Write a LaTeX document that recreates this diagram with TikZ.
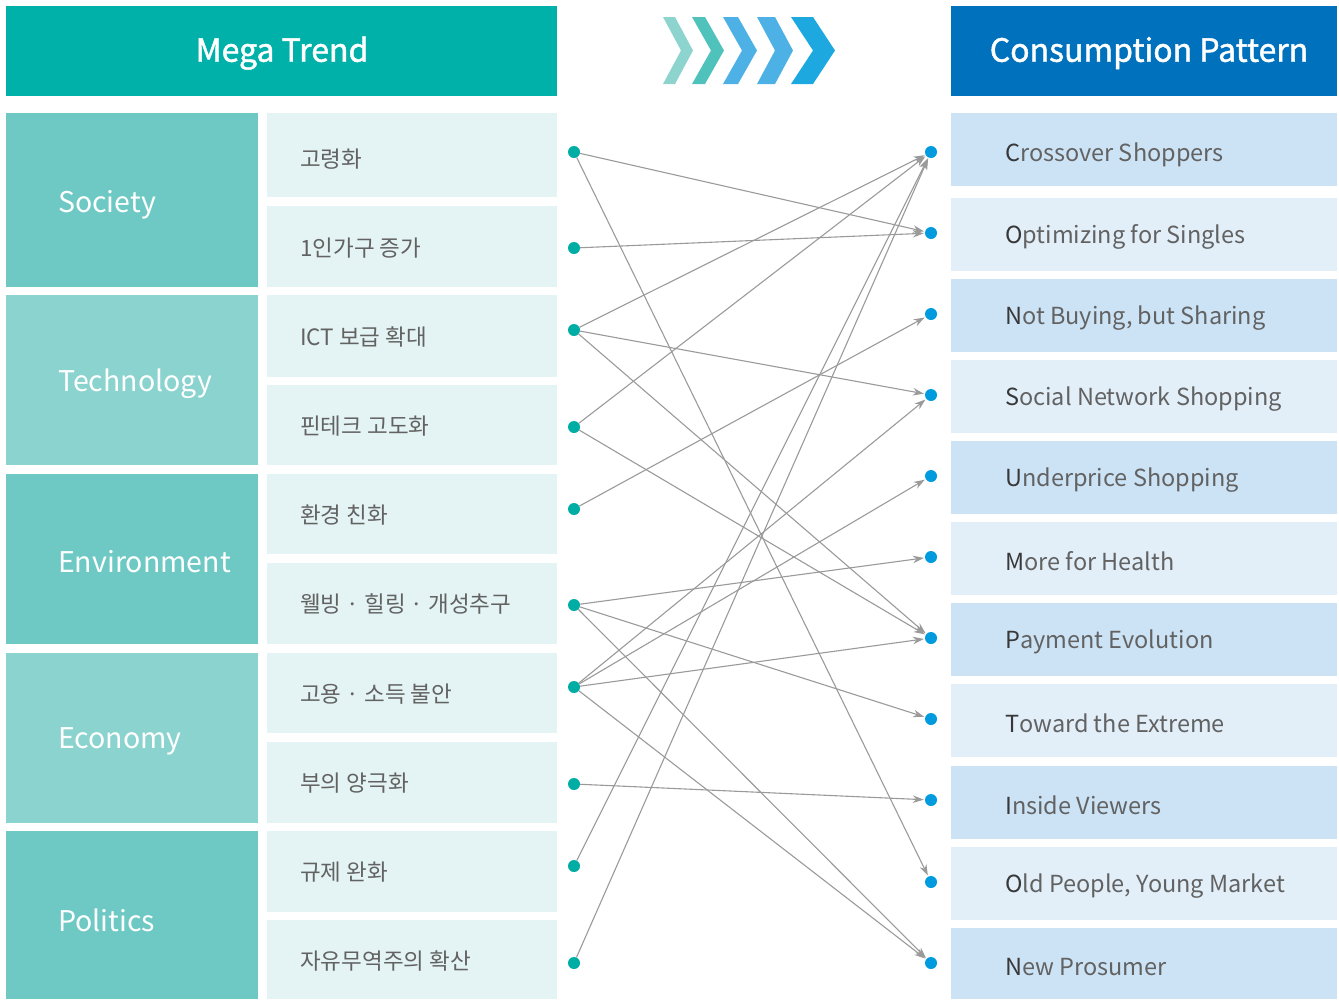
\documentclass[tikz,border=0pt]{standalone}
\usepackage{fontspec}
\setmainfont{Noto Sans CJK KR}
\newfontfamily\headfont[FakeBold=1.4]{Noto Sans CJK KR}
\usetikzlibrary{arrows.meta}

\definecolor{hdrteal}{HTML}{00B1A9}
\definecolor{hdrblue}{HTML}{0071BC}
\definecolor{catA}{HTML}{6EC9C5}
\definecolor{catB}{HTML}{8AD3CE}
\definecolor{itembg}{HTML}{E4F3F3}
\definecolor{patA}{HTML}{CCE3F5}
\definecolor{patB}{HTML}{E2EFF9}
\definecolor{dotL}{HTML}{00ADA5}
\definecolor{dotR}{HTML}{009ADE}
\definecolor{linkgray}{HTML}{9A9A9A}
\definecolor{txtgray}{HTML}{626262}
\definecolor{txtdark}{HTML}{383838}
\definecolor{chevA}{HTML}{8DD3CE}
\definecolor{chevB}{HTML}{4FC2BB}
\definecolor{chevC}{HTML}{4DB1E6}
\definecolor{chevD}{HTML}{1DA8E0}

\tikzset{
  hdrtext/.style={text=white, font=\headfont\fontsize{32}{32}\selectfont, inner sep=0, yshift=-2pt},
  cattext/.style={text=white, anchor=west, font=\fontsize{28.5}{28.5}\selectfont, inner sep=0, yshift=-3pt},
  itemtext/.style={text=txtgray, anchor=west, font=\fontsize{22.5}{22.5}\selectfont, inner sep=0, yshift=-2pt},
  pattext/.style={text=txtgray, anchor=west, font=\fontsize{23.5}{23.5}\selectfont, inner sep=0, yshift=-2pt},
  ldot/.style={circle, fill=dotL, minimum size=12pt, inner sep=0},
  rdot/.style={circle, fill=dotR, minimum size=12pt, inner sep=0},
  link/.style={draw=linkgray, line width=1.1pt, -{Stealth[length=11pt,width=7.5pt]}, shorten >=1pt}
}
\newcommand{\initial}[2]{{\color{txtdark}#1}#2}

\begin{document}
\begin{tikzpicture}[x=1pt,y=-1pt]
\useasboundingbox (0,0) rectangle (1339,999);

% headers
\fill[hdrteal] (6,6) rectangle (557,96);
\node[hdrtext] (hmega) at (282,51) {Mega Trend};
\fill[hdrblue] (951,6) rectangle (1337,96);
\node[hdrtext] (hcons) at (1149,51) {Consumption Pattern};

% chevrons between the headers
\fill[chevA] (663,17) -- (675,17) -- (693,50.5) -- (675,84) -- (663,84) -- (681,50.5) -- cycle;
\fill[chevB] (692,17) -- (705,17) -- (724,50.5) -- (705,84) -- (692,84) -- (711,50.5) -- cycle;
\fill[chevC] (723,17) -- (738,17) -- (757,50.5) -- (738,84) -- (723,84) -- (742,50.5) -- cycle;
\fill[chevC] (757,17) -- (775,17) -- (793,50.5) -- (775,84) -- (757,84) -- (775,50.5) -- cycle;
\fill[chevD] (791,17) -- (813,17) -- (835,50.5) -- (813,84) -- (791,84) -- (813,50.5) -- cycle;

% category column
\fill[catA] (6,113) rectangle (258,287);
\fill[catB] (6,295) rectangle (258,465);
\fill[catA] (6,474) rectangle (258,644);
\fill[catB] (6,653) rectangle (258,823);
\fill[catA] (6,831) rectangle (258,999);
\node[cattext] (csoc) at (58,202) {Society};
\node[cattext] (ctec) at (58,381) {Technology};
\node[cattext] (cenv) at (58,559) {Environment};
\node[cattext] (ceco) at (58,738) {Economy};
\node[cattext] (cpol) at (58,917) {Politics};

% trend items
\foreach \ya/\yb in {113/197, 206/287, 295/377, 385/465, 474/554, 563/644, 653/733, 742/823, 831/912, 920/999}
  \fill[itembg] (267,\ya) rectangle (557,\yb);
\node[itemtext] (t1) at (300,157) {고령화};
\node[itemtext] (t2) at (300,246) {1인가구 증가};
\node[itemtext] (t3) at (300,335) {ICT 보급 확대};
\node[itemtext] (t4) at (300,424) {핀테크 고도화};
\node[itemtext] (t5) at (300,513) {환경 친화};
\node[itemtext] (t6) at (300,602) {웰빙 · 힐링 · 개성추구};
\node[itemtext] (t7) at (300,692) {고용 · 소득 불안};
\node[itemtext] (t8) at (300,781) {부의 양극화};
\node[itemtext] (t9) at (300,870) {규제 완화};
\node[itemtext] (t10) at (300,959) {자유무역주의 확산};

% consumption patterns
\foreach \ya/\col in {113/patA, 198/patB, 279/patA, 360/patB, 441/patA, 522/patB, 603/patA, 684/patB, 766/patA, 847/patB, 928/patA}
  \fill[\col] (951,\ya) rectangle (1337,{min(\ya+73,999)});
\node[pattext] (p1) at (1005,153) {\initial{C}{rossover Shoppers}};
\node[pattext] (p2) at (1005,235) {\initial{O}{ptimizing for Singles}};
\node[pattext] (p3) at (1005,316) {\initial{N}{ot Buying, but Sharing}};
\node[pattext] (p4) at (1005,397) {\initial{S}{ocial Network Shopping}};
\node[pattext] (p5) at (1005,478) {\initial{U}{nderprice Shopping}};
\node[pattext] (p6) at (1005,559) {\initial{M}{ore for Health}};
\node[pattext] (p7) at (1005,640) {\initial{P}{ayment Evolution}};
\node[pattext] (p8) at (1005,721) {\initial{T}{oward the Extreme}};
\node[pattext] (p9) at (1005,803) {\initial{I}{nside Viewers}};
\node[pattext] (p10) at (1005,884) {\initial{O}{ld People, Young Market}};
\node[pattext] (p11) at (1005,965) {\initial{N}{ew Prosumer}};

% connector dots
\node[ldot] (L1) at (574,152) {};
\node[ldot] (L2) at (574,248) {};
\node[ldot] (L3) at (574,330) {};
\node[ldot] (L4) at (574,427) {};
\node[ldot] (L5) at (574,509) {};
\node[ldot] (L6) at (574,605) {};
\node[ldot] (L7) at (574,687) {};
\node[ldot] (L8) at (574,784) {};
\node[ldot] (L9) at (574,866) {};
\node[ldot] (L10) at (574,963) {};
\node[rdot] (R1) at (931,152) {};
\node[rdot] (R2) at (931,233) {};
\node[rdot] (R3) at (931,314) {};
\node[rdot] (R4) at (931,395) {};
\node[rdot] (R5) at (931,476) {};
\node[rdot] (R6) at (931,557) {};
\node[rdot] (R7) at (931,638) {};
\node[rdot] (R8) at (931,719) {};
\node[rdot] (R9) at (931,800) {};
\node[rdot] (R10) at (931,882) {};
\node[rdot] (R11) at (931,963) {};

% links from trends to patterns
\draw[link] (L1) -- (R2);
\draw[link] (L1) -- (R10);
\draw[link] (L2) -- (R2);
\draw[link] (L3) -- (R1);
\draw[link] (L3) -- (R4);
\draw[link] (L3) -- (R7);
\draw[link] (L4) -- (R1);
\draw[link] (L4) -- (R7);
\draw[link] (L5) -- (R3);
\draw[link] (L6) -- (R6);
\draw[link] (L6) -- (R8);
\draw[link] (L6) -- (R11);
\draw[link] (L7) -- (R4);
\draw[link] (L7) -- (R5);
\draw[link] (L7) -- (R7);
\draw[link] (L7) -- (R11);
\draw[link] (L8) -- (R9);
\draw[link] (L9) -- (R1);
\draw[link] (L10) -- (R1);
\end{tikzpicture}
\end{document}
